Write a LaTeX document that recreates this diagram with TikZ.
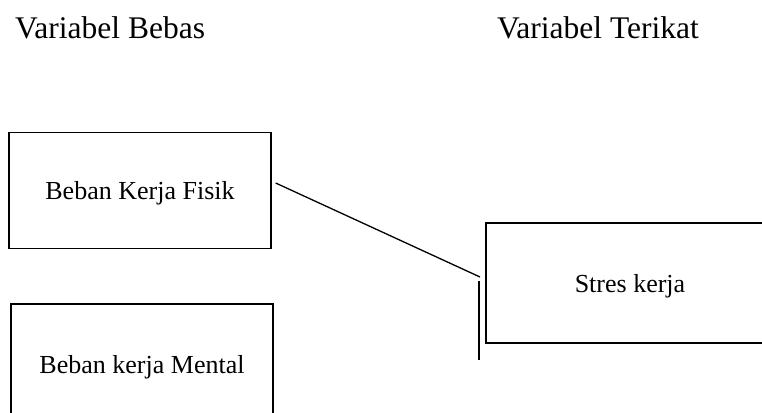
\documentclass[tikz,border=0pt]{standalone}
\usepackage{fontspec}
\setmainfont{Liberation Serif}
\usetikzlibrary{calc}
\begin{document}
\begin{tikzpicture}[x=1pt,y=1pt,
  box/.style={draw=black, line width=1.3pt, minimum width=262pt, minimum height=116pt, inner sep=0pt, text depth=0pt, font=\fontsize{26}{30}\selectfont},
  head/.style={anchor=base west, inner sep=0pt, font=\fontsize{31.5}{36}\selectfont},
  conn/.style={draw=black, line width=1.3pt}]
\clip (0,0) rectangle (762,412);
\fill[white] (0,0) rectangle (762,412);
\node[head] (hb) at (15,373) {Variabel Bebas};
\node[head] (ht) at (497,373) {Variabel Terikat};
\node[box] (fisik) at (140,221.5) {Beban Kerja Fisik};
\node[box, minimum height=120pt] (mental) at (142,48) {Beban kerja Mental};
\node[box, minimum width=288pt, minimum height=120pt] (stres) at (630,129) {Stres kerja};
\coordinate (a) at ($(fisik.east)+(4,7.5)$);
\coordinate (b) at (480,135);
\coordinate (c) at (479,131);
\coordinate (d) at (479,52);
\draw[conn] (a) -- (b);
\draw[conn] (c) -- (d);
\end{tikzpicture}
\end{document}
